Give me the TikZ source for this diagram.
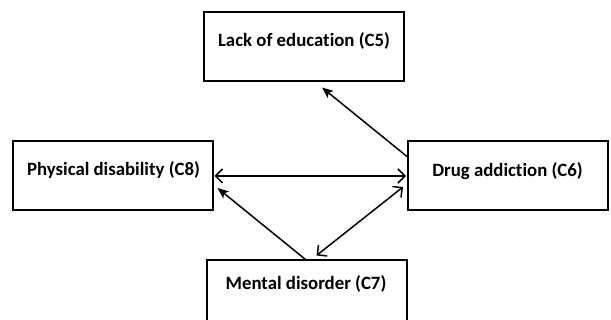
\documentclass[tikz,border=0pt]{standalone}
\usepackage{fontspec}
\setmainfont{Carlito}[Ligatures=NoCommon]
\usetikzlibrary{arrows.meta,calc}
\begin{document}
\begin{tikzpicture}[x=1pt,y=-1pt,
  box/.style={draw,line width=2pt,minimum width=200pt,minimum height=69pt,inner sep=0pt},
  txt/.style={font=\bfseries\fontsize{18.8}{21}\selectfont,inner sep=0pt},
  conn/.style={line width=1.5pt},
  barbs/.style={{Straight Barb[length=7pt,width=14pt]}-{Straight Barb[length=7pt,width=14pt]}},
  fillhead/.style={-{Stealth[length=11pt,width=9pt,inset=2.5pt]}}]
\useasboundingbox (0,0) rectangle (611,320);
\node[box] (c5) at (304,47) {};
\node[box] (c8) at (112.5,176) {};
\node[box] (c6) at (508,176) {};
\node[box] (c7) at (306.5,295) {};
\node[txt] (t5) at (304,41) {Lack of education (C5)};
\node[txt] (t8) at (113.5,170) {Physical disability (C8)};
\node[txt] (t6) at (507.5,171) {Drug addiction (C6)};
\node[txt] (t7) at (306,284) {Mental disorder (C7)};
\draw[conn,fillhead] ($(c6.north west)+(0,16)$) -- ($(c5.south)+(18,5)$);
\draw[conn,barbs] ($(c8.east)+(1,0)$) -- ($(c6.west)+(-1,0)$);
\draw[conn,fillhead] ($(c7.north)+(-1,0)$) -- ($(c8.east)+(4,12)$);
\draw[conn,barbs] ($(c7.north)+(10,-4)$) -- ($(c6.west)+(-4,11)$);
\end{tikzpicture}
\end{document}
